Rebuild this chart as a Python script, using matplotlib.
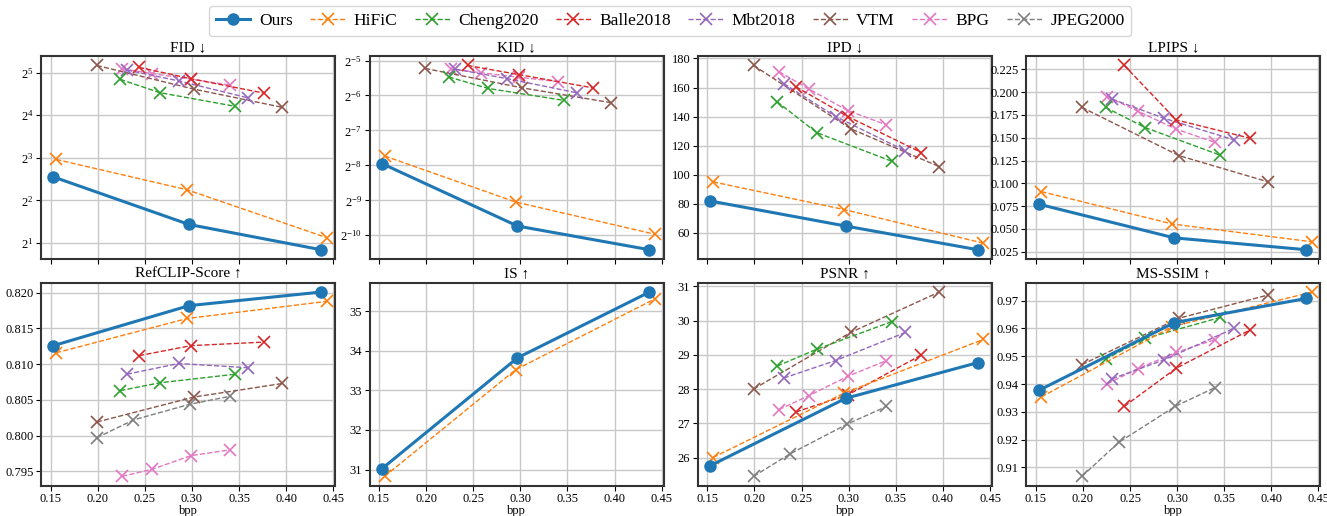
import matplotlib
matplotlib.use("Agg")
import matplotlib.pyplot as plt
from matplotlib.ticker import MultipleLocator

plt.rcParams['font.family'] = ['Liberation Serif', 'DejaVu Serif']
plt.rcParams['mathtext.fontset'] = 'stix'
plt.rcParams['font.size'] = 9

# bpp per method
bpp_ours = [0.153, 0.297, 0.437]
bpp_hific = [0.156, 0.295, 0.443]
bpp_cheng = [0.224, 0.266, 0.346]
bpp_balle = [0.244, 0.299, 0.377]
bpp_mbt = [0.231, 0.286, 0.360]
bpp_vtm = [0.199, 0.302, 0.396]
bpp_bpg = [0.226, 0.258, 0.299, 0.340]
bpp_jpeg = [0.199, 0.238, 0.298, 0.340]

# FID
fid_ours = [5.86, 2.70, 1.79]
fid_hific = [7.79, 4.75, 2.18]
fid_cheng = [28.7, 23.1, 18.5]
fid_balle = [34.9, 29.0, 22.9]
fid_mbt = [33.4, 28.0, 21.2]
fid_vtm = [36.0, 24.5, 18.2]
fid_bpg = [34.1, 31.5, 28.8, 26.2]

# KID
kid_ours = [2 ** -7.947, 2 ** -9.736, 2 ** -10.414]
kid_hific = [2 ** -7.731, 2 ** -9.049, 2 ** -9.972]
kid_cheng = [2 ** -5.471, 2 ** -5.800, 2 ** -6.139]
kid_balle = [2 ** -5.141, 2 ** -5.405, 2 ** -5.782]
kid_mbt = [2 ** -5.245, 2 ** -5.518, 2 ** -5.923]
kid_vtm = [2 ** -5.226, 2 ** -5.782, 2 ** -6.205]
kid_bpg = [2 ** -5.245, 2 ** -5.348, 2 ** -5.480, 2 ** -5.603]

# IPD
ipd_ours = [81.8, 64.5, 48.2]
ipd_hific = [95.0, 75.9, 52.7]
ipd_cheng = [150.2, 128.9, 109.1]
ipd_balle = [160.5, 140.0, 115.2]
ipd_mbt = [162.7, 140.0, 116.4]
ipd_vtm = [175.2, 131.6, 105.5]
ipd_bpg = [170.9, 158.9, 144.1, 134.3]

# LPIPS
lpips_ours = [0.0772, 0.0402, 0.0272]
lpips_hific = [0.0909, 0.0554, 0.0359]
lpips_cheng = [0.1833, 0.1612, 0.1308]
lpips_balle = [0.2293, 0.1696, 0.1496]
lpips_mbt = [0.1924, 0.1714, 0.1478]
lpips_vtm = [0.1833, 0.1304, 0.1018]
lpips_bpg = [0.1950, 0.1793, 0.1594, 0.1450]

# RefCLIP-Score
clip_ours = [0.8126, 0.8182, 0.8201]
clip_hific = [0.8116, 0.8164, 0.8188]
clip_cheng = [0.8063, 0.8074, 0.8086]
clip_balle = [0.8112, 0.8126, 0.8131]
clip_mbt = [0.8086, 0.8101, 0.8095]
clip_vtm = [0.8019, 0.8054, 0.8073]
clip_bpg = [0.7943, 0.7953, 0.7972, 0.7980]
clip_jpeg = [0.7997, 0.8022, 0.8044, 0.8055]

# IS
is_ours = [31.02, 33.82, 35.48]
is_hific = [30.83, 33.52, 35.31]

# PSNR
psnr_ours = [25.76, 27.73, 28.77]
psnr_hific = [26.00, 27.88, 29.45]
psnr_cheng = [28.67, 29.16, 29.97]
psnr_balle = [27.33, 27.83, 28.99]
psnr_mbt = [28.32, 28.83, 29.65]
psnr_vtm = [28.00, 29.65, 30.83]
psnr_bpg = [27.40, 27.81, 28.37, 28.83]
psnr_jpeg = [25.45, 26.11, 26.97, 27.49]

# MS-SSIM
ssim_ours = [0.9377, 0.9621, 0.9708]
ssim_hific = [0.9354, 0.9607, 0.9731]
ssim_cheng = [0.9490, 0.9564, 0.9640]
ssim_balle = [0.9320, 0.9457, 0.9594]
ssim_mbt = [0.9419, 0.9487, 0.9600]
ssim_vtm = [0.9470, 0.9637, 0.9720]
ssim_bpg = [0.9401, 0.9455, 0.9514, 0.9560]
ssim_jpeg = [0.9068, 0.9190, 0.9320, 0.9387]

methods = ['Ours', 'HiFiC', 'Cheng2020', 'Balle2018', 'Mbt2018', 'VTM', 'BPG', 'JPEG2000']
colors = ['#1f77b4', '#ff7f0e', '#2ca02c', '#d62728', '#9467bd', '#8c564b', '#e377c2', '#7f7f7f']
bpps = [bpp_ours, bpp_hific, bpp_cheng, bpp_balle, bpp_mbt, bpp_vtm, bpp_bpg, bpp_jpeg]

panels = [
    ('FID ↓', [fid_ours, fid_hific, fid_cheng, fid_balle, fid_mbt, fid_vtm, fid_bpg, None], True),
    ('KID ↓', [kid_ours, kid_hific, kid_cheng, kid_balle, kid_mbt, kid_vtm, kid_bpg, None], True),
    ('IPD ↓', [ipd_ours, ipd_hific, ipd_cheng, ipd_balle, ipd_mbt, ipd_vtm, ipd_bpg, None], False),
    ('LPIPS ↓', [lpips_ours, lpips_hific, lpips_cheng, lpips_balle, lpips_mbt, lpips_vtm, lpips_bpg, None], False),
    ('RefCLIP-Score ↑', [clip_ours, clip_hific, clip_cheng, clip_balle, clip_mbt, clip_vtm, clip_bpg, clip_jpeg], False),
    ('IS ↑', [is_ours, is_hific, None, None, None, None, None, None], False),
    ('PSNR ↑', [psnr_ours, psnr_hific, psnr_cheng, psnr_balle, psnr_mbt, psnr_vtm, psnr_bpg, psnr_jpeg], False),
    ('MS-SSIM ↑', [ssim_ours, ssim_hific, ssim_cheng, ssim_balle, ssim_mbt, ssim_vtm, ssim_bpg, ssim_jpeg], False),
]

fig, axes = plt.subplots(2, 4, figsize=(13.27, 5.16), dpi=100, sharex=True)
fig.subplots_adjust(left=0.031, right=0.995, top=0.891, bottom=0.059, wspace=0.117, hspace=0.118)

handles = {}
for ax, (title, series, logy) in zip(axes.flat, panels):
    # draw in reverse so Ours sits on top
    for i in reversed(range(len(methods))):
        y = series[i]
        if y is None:
            continue
        if i == 0:
            h, = ax.plot(bpps[i], y, '-o', color=colors[i], lw=2.2, ms=8, label=methods[i], zorder=5)
        else:
            h, = ax.plot(bpps[i], y, '--x', color=colors[i], lw=1.0, ms=8, mew=1.2, label=methods[i], zorder=3)
        handles[methods[i]] = h
    if logy:
        ax.set_yscale('log', base=2)
        ax.minorticks_off()
    ax.set_title(title, fontsize=11, pad=4)
    ax.grid(True, color='#c8c8c8', lw=1.0)
    ax.set_axisbelow(True)
    ax.tick_params(labelsize=9, pad=2)
    for s in ax.spines.values():
        s.set_linewidth(1.5)
        s.set_color('#333333')

axes[0, 3].yaxis.set_major_locator(MultipleLocator(0.025))

for ax in axes[1]:
    ax.set_xlabel('bpp', fontsize=9, labelpad=-0.5)
axes[0, 0].set_xticks([0.15, 0.20, 0.25, 0.30, 0.35, 0.40, 0.45])
axes[0, 0].set_xlim(0.14, 0.452)

fig.legend([handles[m] for m in methods], methods, loc='upper center', ncol=8,
           bbox_to_anchor=(0.505, 1.005), fontsize=12.5, handlelength=2.0,
           columnspacing=1.0, handletextpad=0.5, frameon=True)

plt.savefig('out.png', dpi=100)
